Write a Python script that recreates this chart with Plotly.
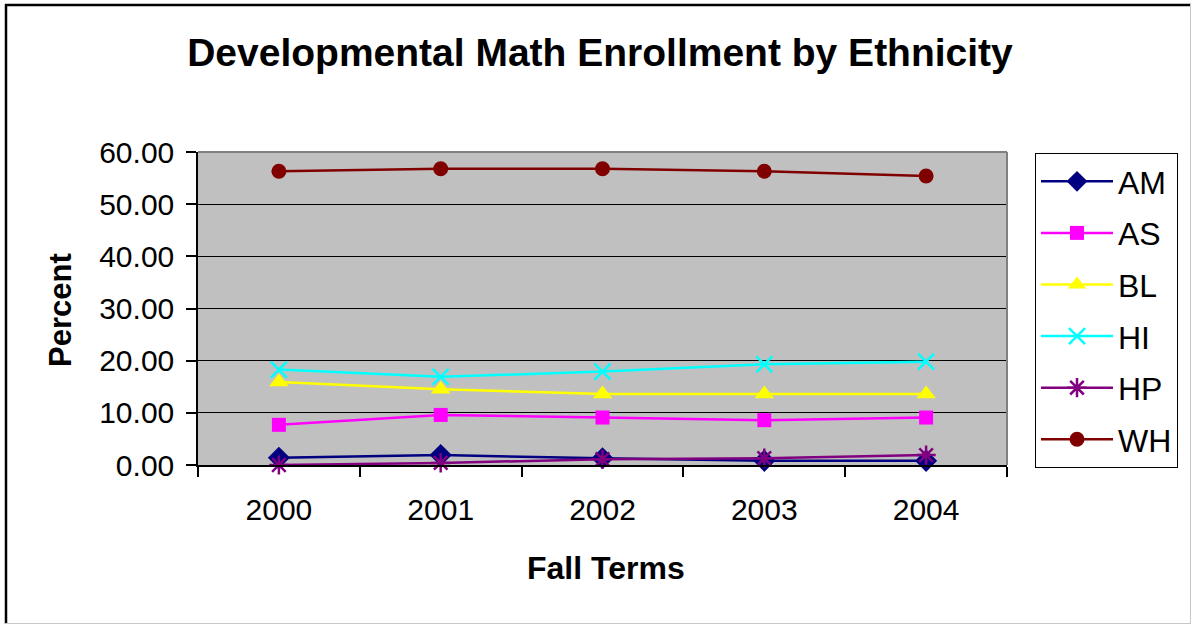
import plotly.graph_objects as go

# Fall terms and percent enrollment by ethnicity
terms = ["2000", "2001", "2002", "2003", "2004"]
am = [1.4, 1.9, 1.3, 0.8, 0.8]
as_ = [7.7, 9.6, 9.1, 8.6, 9.1]
bl = [15.9, 14.5, 13.6, 13.6, 13.6]
hi = [18.3, 16.9, 17.9, 19.3, 19.8]
hp = [0.0, 0.4, 1.1, 1.3, 1.9]
wh = [56.3, 56.8, 56.8, 56.3, 55.4]

y_ticks = [0, 10, 20, 30, 40, 50, 60]

FONT = "Liberation Sans, Arial, sans-serif"

series = [
    ("AM", am, "#000080", dict(symbol="diamond", size=17, color="#000080")),
    ("AS", as_, "#FF00FF", dict(symbol="square", size=14, color="#FF00FF")),
    ("BL", bl, "#FFFF00", dict(symbol="triangle-up", size=17, color="#FFFF00")),
    ("HI", hi, "#00FFFF", dict(symbol="x-thin-open", size=16, color="#00FFFF",
                               line=dict(color="#00FFFF", width=2.5))),
    ("HP", hp, "#800080", dict(symbol="asterisk-open", size=16, color="#800080",
                               line=dict(color="#800080", width=2.5))),
    ("WH", wh, "#800000", dict(symbol="circle", size=15, color="#800000")),
]

x_idx = list(range(len(terms)))

fig = go.Figure()
for name, vals, col, mk in series:
    fig.add_trace(go.Scatter(
        x=x_idx, y=vals, name=name, mode="lines+markers",
        line=dict(color=col, width=2.5), marker=mk,
        legendgroup=name, cliponaxis=False,
    ))

# plot-area pixel geometry
L, R, T, B = 198, 1007, 152, 465
W, H = 1192, 625
pw, ph = R - L, B - T


def px(x):
    return (x - L) / pw


def py(y):
    return (B - y) / ph


fig.update_layout(
    width=W, height=H,
    margin=dict(l=L, r=W - R, t=T, b=H - B, pad=0),
    paper_bgcolor="white", plot_bgcolor="#C0C0C0",
    font=dict(family=FONT, color="black"),
    title=dict(text="<b>Developmental Math Enrollment by Ethnicity</b>",
               x=600 / W, xanchor="center", y=1 - 52 / H, yanchor="middle",
               font=dict(size=39, family=FONT, color="black")),
    showlegend=True,
    legend=dict(x=px(1035), y=py(153), xanchor="left", yanchor="top",
                bgcolor="white", bordercolor="black", borderwidth=1,
                font=dict(size=32, family=FONT, color="black"),
                tracegroupgap=7, itemwidth=72, maxheight=600),
    xaxis=dict(range=[-0.5, 4.5], tickvals=x_idx, ticktext=terms,
               ticks="", showgrid=False, zeroline=False,
               showline=True, linecolor="black", linewidth=1.5,
               tickfont=dict(size=30, family=FONT, color="black"),
               ticklabelstandoff=17,
               minor=dict(ticks="outside", tick0=-0.5, dtick=1, ticklen=10,
                          tickcolor="black", tickwidth=1.5, showgrid=False)),
    yaxis=dict(range=[0, 60], tickvals=y_ticks,
               ticktext=[f"{v:.2f}" for v in y_ticks],
               ticks="outside", ticklen=10, tickcolor="black", tickwidth=1.5,
               showgrid=True, gridcolor="black", gridwidth=1,
               zeroline=False, showline=True, linecolor="black", linewidth=1.5,
               tickfont=dict(size=30, family=FONT, color="black"),
               ticklabelstandoff=6),
)

# axis titles
fig.add_annotation(text="<b>Percent</b>", x=px(60), y=py(310), xref="paper", yref="paper",
                   xanchor="center", yanchor="middle",
                   showarrow=False, textangle=-90,
                   font=dict(size=31, family=FONT, color="black"))
fig.add_annotation(text="<b>Fall Terms</b>", x=px(606), y=py(568), xref="paper", yref="paper",
                   xanchor="center", yanchor="middle",
                   showarrow=False, font=dict(size=32, family=FONT, color="black"))

# gray frame on top and right of the plot area
fig.add_shape(type="line", xref="paper", yref="paper", x0=0, x1=1, y0=1, y1=1,
              line=dict(color="#808080", width=2), layer="above")
fig.add_shape(type="line", xref="paper", yref="paper", x0=1, x1=1, y0=0, y1=1,
              line=dict(color="#808080", width=2), layer="above")

# outer chart border
fig.add_shape(type="line", xref="paper", yref="paper", x0=px(6), x1=px(6), y0=py(624), y1=py(4),
              line=dict(color="black", width=2.5))
fig.add_shape(type="line", xref="paper", yref="paper", x0=px(5), x1=px(1191), y0=py(5), y1=py(5),
              line=dict(color="black", width=2.5))
fig.add_shape(type="line", xref="paper", yref="paper", x0=px(1190.5), x1=px(1190.5), y0=py(624), y1=py(4),
              line=dict(color="#C8C8C8", width=1))
fig.add_shape(type="line", xref="paper", yref="paper", x0=px(5), x1=px(1191), y0=py(623.5), y1=py(623.5),
              line=dict(color="#C8C8C8", width=1))

fig.write_html("out.html")
